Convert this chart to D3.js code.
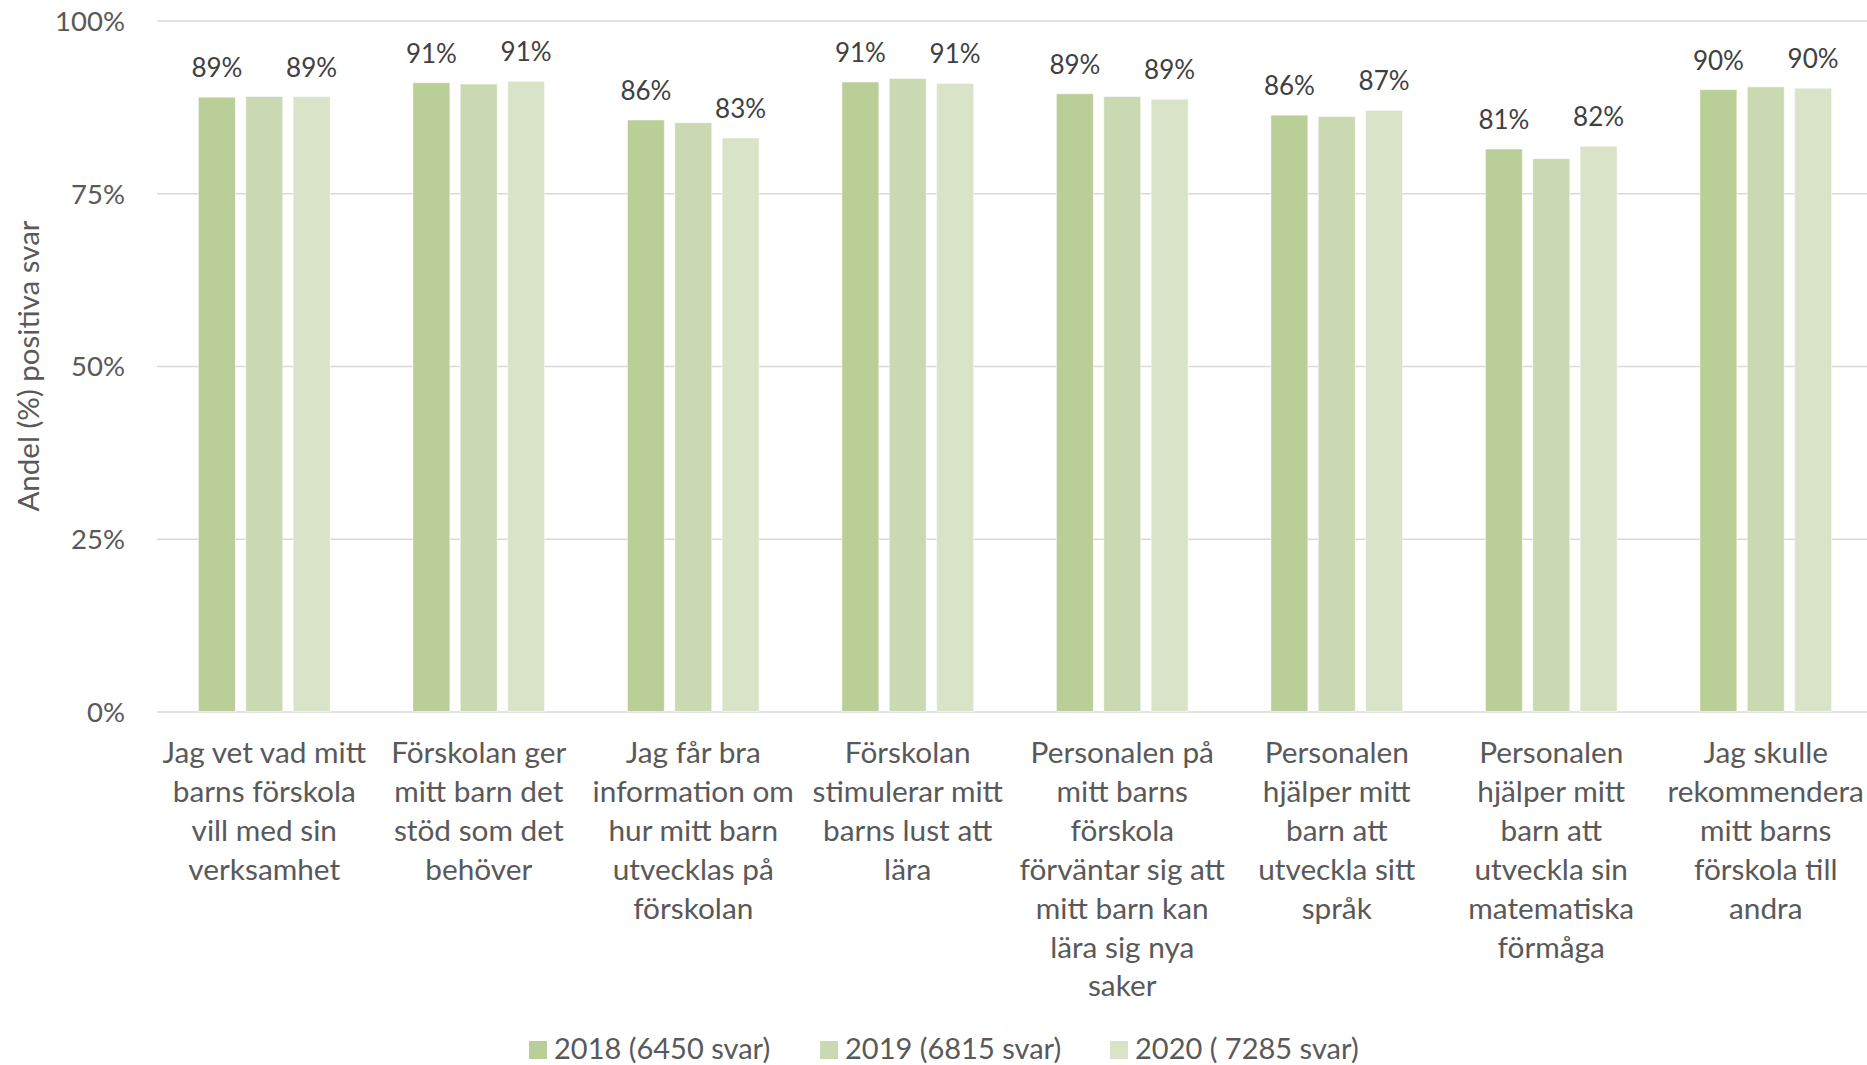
<!DOCTYPE html>
<html>
<head>
<meta charset="utf-8">
<script src="https://cdn.jsdelivr.net/npm/d3@7"></script>
<style>
  body { margin: 0; background: #fff; }
  svg text { font-family: Lato, "Open Sans", sans-serif; }
</style>
</head>
<body>
<div id="chart"></div>
<script>
// categories, each label already split into lines as in the original
const questions = [
  ["Jag vet vad mitt", "barns förskola", "vill med sin", "verksamhet"],
  ["Förskolan ger", "mitt barn det", "stöd som det", "behöver"],
  ["Jag får bra", "information om", "hur mitt barn", "utvecklas på", "förskolan"],
  ["Förskolan", "stimulerar mitt", "barns lust att", "lära"],
  ["Personalen på", "mitt barns", "förskola", "förväntar sig att", "mitt barn kan", "lära sig nya", "saker"],
  ["Personalen", "hjälper mitt", "barn att", "utveckla sitt", "språk"],
  ["Personalen", "hjälper mitt", "barn att", "utveckla sin", "matematiska", "förmåga"],
  ["Jag skulle", "rekommendera", "mitt barns", "förskola till", "andra"]
];

const seriesNames = ["2018 (6450 svar)", "2019 (6815 svar)", "2020 ( 7285 svar)"];
const v2018 = [88.9, 91.0, 85.6, 91.1, 89.4, 86.3, 81.4, 90.0];
const v2019 = [89.0, 90.8, 85.2, 91.6, 89.0, 86.1, 80.0, 90.4];
const v2020 = [89.0, 91.2, 83.0, 90.9, 88.6, 87.0, 81.8, 90.2];
const yTicks = [0, 25, 50, 75, 100];
const colors = ["#bacf97", "#cad9b2", "#d9e3c8"];

const allValues = [v2018, v2019, v2020];
// only 2018 and 2020 carry data labels in the original
const showLabel = [true, false, true];

const W = 1867, H = 1065;
const svg = d3.select("#chart").append("svg")
  .attr("width", W)
  .attr("height", H);

const x0 = d3.scaleBand()
  .domain(d3.range(questions.length))
  .range([157, 1873])
  .paddingInner(0.386)
  .paddingOuter(0.193);

const x1 = d3.scaleBand()
  .domain(d3.range(seriesNames.length))
  .range([0, x0.bandwidth()])
  .paddingInner(0.22);

const y = d3.scaleLinear()
  .domain([0, 100])
  .range([711.5, 20.5]);

// gridlines + tick labels
const yAxis = d3.axisLeft(y)
  .tickValues(yTicks)
  .tickSize(-(W - 157))
  .tickPadding(32)
  .tickFormat(d => d + "%");

const gy = svg.append("g")
  .attr("transform", "translate(157,0)")
  .call(yAxis);
gy.select(".domain").remove();
gy.selectAll(".tick line")
  .attr("stroke", "#d9d9d9")
  .attr("stroke-width", 1.4);
gy.selectAll(".tick text")
  .attr("fill", "#595959")
  .attr("font-size", 27.5)
  .attr("dy", "0.36em");

// y title
svg.append("text")
  .attr("transform", "translate(39," + y(50) + ") rotate(-90)")
  .attr("text-anchor", "middle")
  .attr("fill", "#595959")
  .attr("font-size", 29.5)
  .text("Andel (%) positiva svar");

// bars
const groups = svg.append("g").selectAll("g")
  .data(questions)
  .join("g")
  .attr("transform", (d, i) => "translate(" + x0(i) + ",0)");

groups.selectAll("rect")
  .data((d, i) => allValues.map((vals, s) => ({ s: s, v: vals[i] })))
  .join("rect")
  .attr("x", d => x1(d.s))
  .attr("y", d => y(d.v))
  .attr("width", x1.bandwidth())
  .attr("height", d => y(0) - y(d.v))
  .attr("fill", d => colors[d.s])
  .attr("stroke", "#ffffff")
  .attr("stroke-opacity", 0.5)
  .attr("stroke-width", 1);

groups.selectAll("text.lbl")
  .data((d, i) => allValues.map((vals, s) => ({ s: s, v: vals[i] })).filter(d => showLabel[d.s]))
  .join("text")
  .attr("class", "lbl")
  .attr("x", d => x1(d.s) + x1.bandwidth() / 2)
  .attr("y", d => y(d.v) - 20)
  .attr("text-anchor", "middle")
  .attr("fill", "#404040")
  .attr("font-size", 26)
  .text(d => Math.round(d.v) + "%");

// category labels
const lineH = 38.9;
svg.append("g").selectAll("text")
  .data(questions)
  .join("text")
  .attr("text-anchor", "middle")
  .attr("fill", "#595959")
  .attr("font-size", 29.8)
  .each(function(lines, i) {
    const t = d3.select(this);
    lines.forEach((ln, k) => {
      t.append("tspan")
        .attr("x", x0(i) + x0.bandwidth() / 2)
        .attr("y", 763 + k * lineH)
        .text(ln);
    });
  });

// legend
const legX = [529, 820, 1110];
const leg = svg.append("g").selectAll("g")
  .data(seriesNames)
  .join("g")
  .attr("transform", (d, i) => "translate(" + legX[i] + ",0)");
leg.append("rect")
  .attr("y", 1041)
  .attr("width", 18)
  .attr("height", 18)
  .attr("fill", (d, i) => colors[i]);
leg.append("text")
  .attr("x", 25)
  .attr("y", 1059)
  .attr("fill", "#595959")
  .attr("font-size", 29)
  .text(d => d);
</script>
</body>
</html>
